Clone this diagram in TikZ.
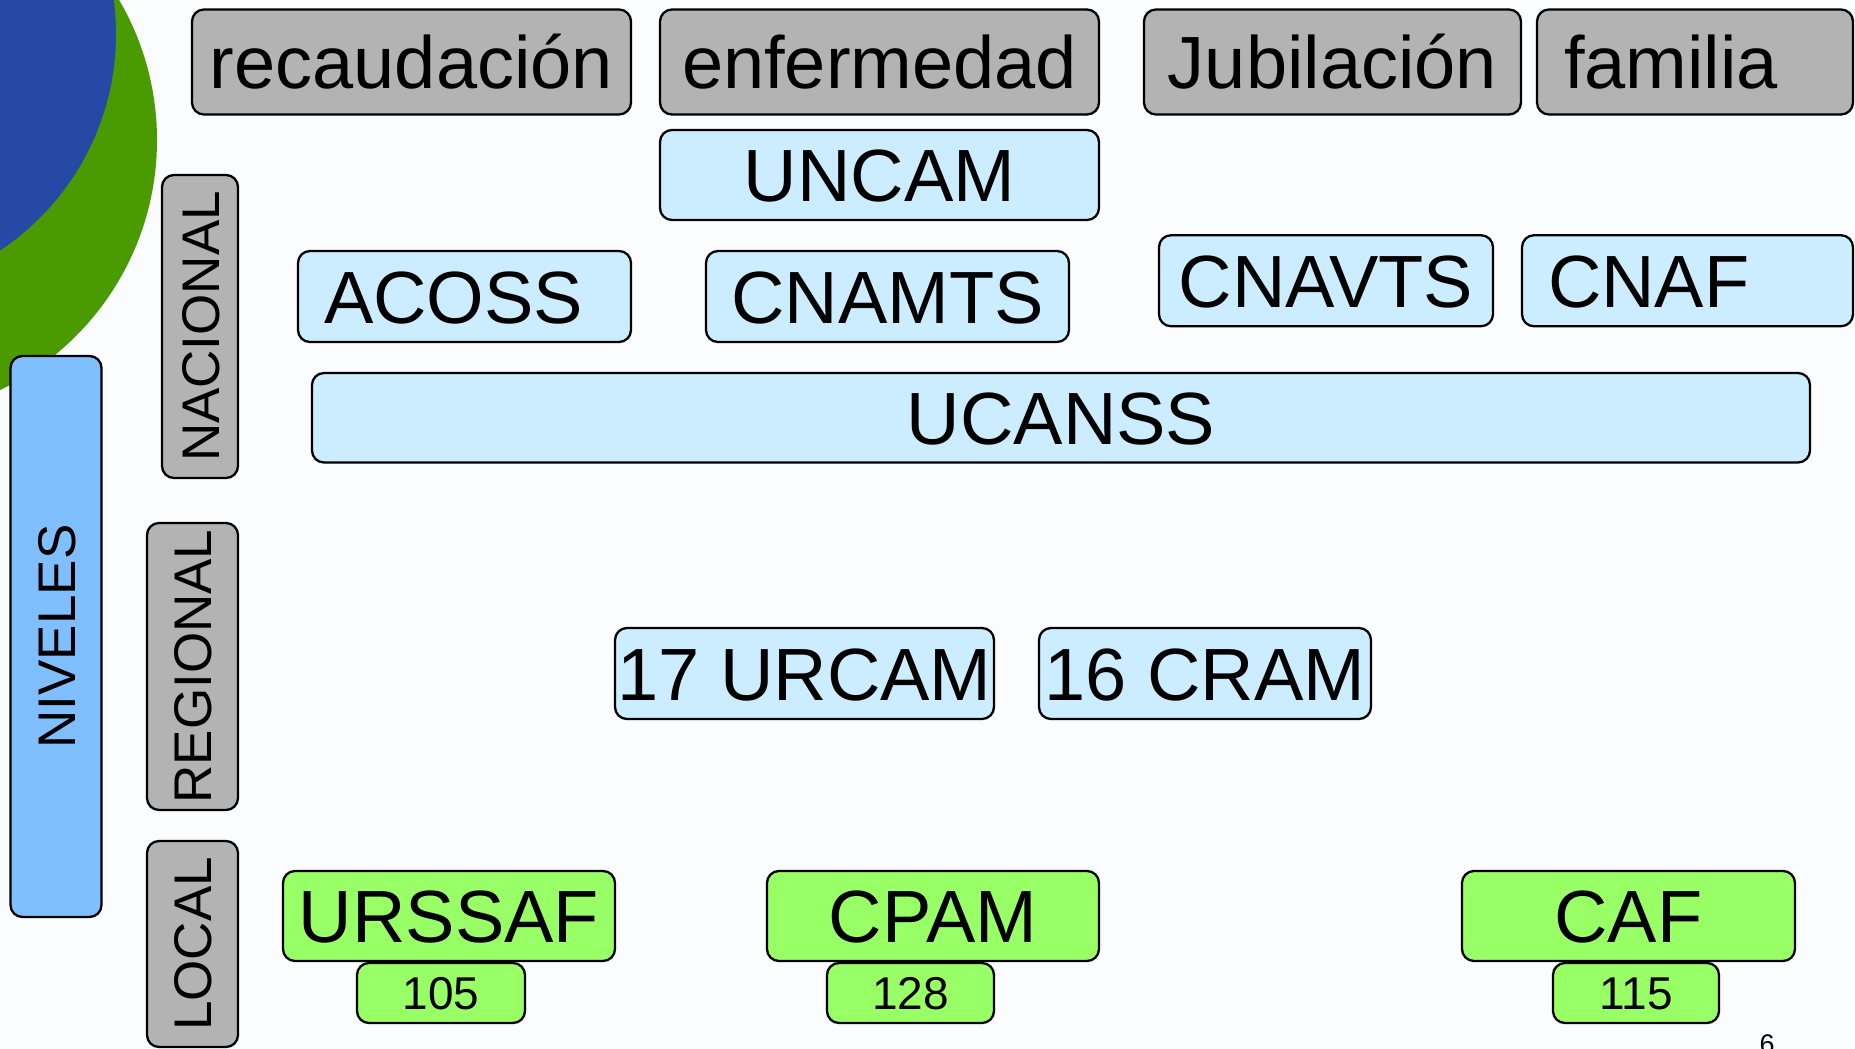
\documentclass[tikz,border=0pt]{standalone}
\usepackage{fontspec}
\setmainfont{Liberation Sans}
\definecolor{bgc}{RGB}{251,252,254}
\definecolor{bluec}{RGB}{38,73,165}
\definecolor{greenc}{RGB}{74,154,2}
\definecolor{grayc}{RGB}{179,179,179}
\definecolor{cyanc}{RGB}{204,236,255}
\definecolor{limec}{RGB}{153,255,102}
\definecolor{nivc}{RGB}{128,191,255}
\begin{document}
\begin{tikzpicture}[x=1pt,y=-1pt,
  box/.style={draw=black, line width=2.3pt, rounded corners=12pt, inner sep=0pt,
    text depth=0pt, align=center},
  big/.style={font=\fontsize{74}{80}\selectfont, text height=53pt},
  mid/.style={font=\fontsize{53}{60}\selectfont, text height=38pt},
  small/.style={font=\fontsize{46}{50}\selectfont, text height=33pt},
  cat/.style={box, big, fill=grayc, minimum height=105pt},
  org/.style={box, big, fill=cyanc, minimum height=91pt},
  loc/.style={box, big, fill=limec, minimum height=90pt},
  num/.style={box, small, fill=limec, minimum height=60pt},
  lvl/.style={box, mid, fill=grayc, rotate=90},
  leftpad/.style={align=left, inner xsep=#1pt}
]
\useasboundingbox (0,0) rectangle (1855,1049);
\clip (0,0) rectangle (1855,1049);
\fill[bgc] (0,0) rectangle (1855,1049);
% decorative circles
\fill[greenc] (-120.5,140) circle [radius=277.5pt];
\fill[bluec] (-144,34) circle [radius=260pt];

% top categories
\node[cat, minimum width=439pt] (recaud) at (411.5,62) {recaudación};
\node[cat, minimum width=439pt] (enferm) at (879.5,62) {enfermedad};
\node[cat, minimum width=377pt] (jubil) at (1332.5,62) {Jubilación};
\node[cat, minimum width=316pt, text width=262pt, leftpad=27] (familia) at (1695,62) {familia};

% national organisations
\node[org, minimum width=439pt, minimum height=90pt] (uncam) at (879.5,175) {UNCAM};
\node[org, minimum width=333pt, text width=281pt, leftpad=26] (acoss) at (464.5,296.5) {ACOSS};
\node[org, minimum width=363pt] (cnamts) at (887.5,296.5) {CNAMTS};
\node[org, minimum width=334pt] (cnavts) at (1326,280.75) {CNAVTS};
\node[org, minimum width=331pt, text width=279pt, leftpad=26] (cnaf) at (1687.5,280.75) {CNAF};
\node[org, minimum width=1498pt, minimum height=89.5pt] (ucanss) at (1061,417.75) {UCANSS};

% regional
\node[org, minimum width=379pt] (urcam) at (804.5,673.5) {17 URCAM};
\node[org, minimum width=332pt] (cram) at (1205,673.5) {16 CRAM};

% local
\node[loc, minimum width=332pt] (urssaf) at (449,916) {URSSAF};
\node[num, minimum width=168pt] (n105) at (441,993) {105};
\node[loc, minimum width=332pt] (cpam) at (933,916) {CPAM};
\node[num, minimum width=167pt] (n128) at (910.5,993) {128};
\node[loc, minimum width=333pt] (caf) at (1628.5,916) {CAF};
\node[num, minimum width=166pt] (n115) at (1636,993) {115};

% levels
\node[lvl, fill=nivc, minimum width=561pt, minimum height=91pt] (niveles) at (56,636.5) {NIVELES};
\node[lvl, minimum width=303pt, minimum height=76pt] (nacional) at (200,326.5) {NACIONAL};
\node[lvl, minimum width=287pt, minimum height=91pt] (regional) at (192.5,666.5) {REGIONAL};
\node[lvl, minimum width=206pt, minimum height=91pt] (local) at (192.5,944) {LOCAL};

% page number
\node[anchor=north, inner sep=0pt, font=\fontsize{27}{30}\selectfont] (pagenum) at (1767,1034) {6};
\end{tikzpicture}
\end{document}
